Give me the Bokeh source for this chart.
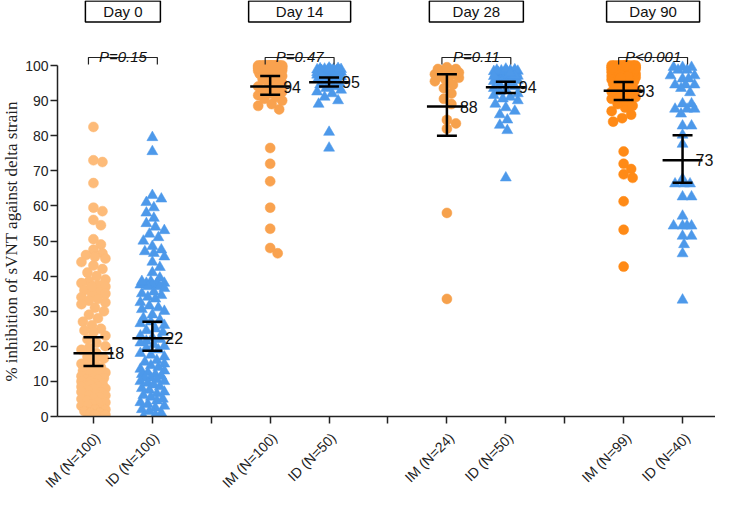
import numpy as np
from bokeh.plotting import figure
from bokeh.layouts import column, row
from bokeh.models import FixedTicker, Range1d
from bokeh.core.properties import value
from bokeh.embed import file_html
from bokeh.resources import INLINE

# ---------------- data ----------------
days = ["Day 0", "Day 14", "Day 28", "Day 90"]
group_labels = ["IM (N=100)", "ID (N=100)", "IM (N=100)", "ID (N=50)",
                "IM (N=24)", "ID (N=50)", "IM (N=99)", "ID (N=40)"]
group_pos = [1, 2, 4, 5, 7, 8, 10, 11]
p_values = ["P=0.15", "P=0.47", "P=0.11", "P<0.001"]
means = [18.0, 22.3, 94.0, 95.2, 88.3, 93.8, 92.8, 73.0]
ci_low = [14.4, 18.7, 91.7, 94.0, 80.0, 92.2, 90.2, 66.6]
ci_high = [22.6, 27.0, 97.0, 96.6, 97.5, 95.4, 95.3, 80.1]
mean_labels = ["18", "22", "94", "95", "88", "94", "93", "73"]
y_title = "% inhibition of sVNT  against delta strain"

im_day0 = [82.5, 73.0, 72.5, 66.5, 59.5, 58.5, 56.0, 54.5, 50.5, 49.0,
           47.5, 46.5, 46.0, 45.0, 44.0, 43.0, 42.0, 41.0, 40.0, 39.0,
           38.5, 38.0, 37.5, 37.0, 36.0, 35.5, 35.0, 34.0, 33.0, 32.5,
           32.0, 31.0, 30.0, 29.0, 28.0, 27.0, 26.0, 25.0, 24.0, 23.0,
           22.0, 21.0, 20.0, 19.5, 19.0, 18.0, 17.0, 16.5, 16.0, 15.0,
           14.5, 14.0, 13.5, 13.0, 12.5, 12.0, 12.0, 11.5, 11.0, 11.0,
           10.5, 10.5, 10.0, 10.0, 9.5, 9.5, 9.0, 9.0, 8.5, 8.5,
           8.0, 8.0, 7.5, 7.0, 7.0, 6.5, 6.0, 6.0, 5.5, 5.0,
           5.0, 4.5, 4.0, 4.0, 3.5, 3.0, 3.0, 2.5, 2.0, 2.0,
           1.5, 1.0, 1.0, 0.5, 0.5, 37.0, 35.0, 33.5, 45.5, 24.5]
id_day0 = [79.5, 75.5, 63.0, 62.0, 61.0, 59.5, 58.0, 56.5, 55.0, 54.0,
           53.0, 52.0, 51.0, 50.0, 48.5, 47.5, 47.0, 46.5, 45.5, 44.0,
           42.5, 41.0, 39.5, 38.5, 38.0, 38.0, 38.0, 37.5, 37.5, 37.0,
           37.0, 36.5, 35.5, 35.0, 34.0, 33.5, 32.5, 31.5, 31.0, 30.5,
           30.0, 29.0, 28.0, 27.5, 27.0, 26.5, 26.0, 25.0, 24.5, 24.0,
           23.0, 22.5, 22.0, 21.5, 21.0, 20.0, 19.5, 19.0, 18.0, 17.5,
           17.0, 16.0, 15.5, 15.0, 14.5, 14.0, 13.5, 13.0, 12.5, 12.0,
           12.0, 11.5, 11.0, 11.0, 10.5, 10.0, 10.0, 9.5, 9.0, 8.5,
           8.0, 7.5, 7.0, 6.5, 6.0, 5.5, 5.0, 4.5, 4.0, 3.5,
           3.0, 2.5, 2.0, 1.5, 1.0, 0.5, 0.0, 38.5, 34.5, 20.5]
im_day14 = [76.5, 72.0, 67.0, 59.5, 53.5, 48.0, 46.5,
            87.5, 88.5, 89.0, 90.0, 90.5, 91.0, 91.5, 92.0, 92.5, 93.0,
            93.5, 94.0, 94.5, 95.0, 95.5, 96.0, 96.5, 97.0, 97.0, 97.5,
            97.6, 97.8, 98.0, 98.0, 98.2, 98.3, 98.4, 98.5, 98.5, 98.6,
            98.7, 98.8, 98.8, 98.9, 99.0, 99.0, 99.0, 99.1, 99.1, 99.2,
            99.2, 99.2, 99.3, 99.3, 99.3, 99.4, 99.4, 99.4, 99.5, 99.5,
            99.5, 99.5, 99.6, 99.6, 99.6, 99.6, 99.7, 99.7, 99.7, 99.7,
            99.8, 99.8, 99.8, 99.8, 99.8, 99.9, 99.9, 99.9, 99.9, 99.9,
            100.0, 100.0, 100.0, 100.0, 100.0, 100.0, 100.0, 100.0, 100.0, 100.0,
            98.1, 98.9, 99.0, 99.2, 99.4, 99.6, 99.8, 100.0, 100.0, 100.0,
            99.5, 99.3, 99.9]
id_day14 = [81.0, 76.5,
            89.0, 90.0, 91.0, 92.0, 92.5, 93.0, 93.5, 94.0, 94.5, 95.0, 95.5, 96.0,
            96.5, 96.6, 96.8, 97.0, 97.0, 97.2, 97.3, 97.4, 97.5, 97.6,
            97.7, 97.8, 97.9, 98.0, 98.0, 98.1, 98.2, 98.2, 98.3, 98.4,
            98.4, 98.5, 98.5, 98.6, 98.6, 98.7, 98.8, 98.8, 98.9, 99.0,
            99.0, 99.1, 99.2, 99.3, 98.0, 97.5]
im_day28 = [33.5, 58.0, 82.0, 83.5, 84.5,
            89.0, 90.5, 92.0, 93.5, 94.5, 95.5,
            96.0, 96.5, 97.0, 97.0, 97.5, 97.5, 98.0, 98.0, 98.5, 98.5, 99.0, 99.0, 99.5]
id_day28 = [68.0,
            81.5, 83.0, 84.5, 86.0, 87.0, 88.0, 89.0, 90.0, 90.5, 91.0,
            91.5, 92.0, 92.5, 93.0, 93.5, 94.0, 94.5, 95.0,
            95.5, 95.8, 96.0, 96.2, 96.4, 96.5, 96.6, 96.8, 97.0, 97.0,
            97.2, 97.3, 97.4, 97.5, 97.6, 97.7, 97.8, 98.0, 98.0, 98.1,
            98.2, 98.3, 98.4, 98.5, 98.6, 98.7, 98.8, 99.0, 97.1, 96.9, 97.9]
im_day90 = [75.5, 72.0, 70.5, 69.0, 68.0, 61.3, 53.2, 42.7,
            84.0, 85.0, 86.0, 87.0, 88.0, 88.5, 89.0, 90.0, 90.5, 91.0,
            91.5, 92.0, 92.5, 93.0, 93.5, 94.0,
            94.5, 94.8, 95.0, 95.2, 95.5, 95.7, 96.0, 96.2, 96.4, 96.6,
            96.8, 97.0, 97.0, 97.2, 97.3, 97.5, 97.6, 97.8, 97.9, 98.0,
            98.0, 98.1, 98.2, 98.3, 98.4, 98.5, 98.5, 98.6, 98.7, 98.8,
            98.9, 99.0, 99.0, 99.1, 99.1, 99.2, 99.2, 99.3, 99.3, 99.4,
            99.4, 99.5, 99.5, 99.5, 99.6, 99.6, 99.6, 99.7, 99.7, 99.7,
            99.8, 99.8, 99.8, 99.8, 99.9, 99.9, 99.9, 99.9, 100.0, 100.0,
            100.0, 100.0, 100.0, 100.0, 100.0, 100.0, 99.0, 98.0, 97.0, 96.5,
            99.5, 99.8, 100.0, 100.0, 99.3]
id_day90 = [99.5, 99.5, 99.5, 98.7, 98.7, 97.1, 97.1, 96.2, 96.2,
            94.5, 94.5, 94.5, 93.5, 92.3, 89.1, 89.1, 87.6, 87.6, 87.6, 86.2,
            82.8, 82.8, 80.2, 77.6, 67.7, 66.3, 66.3, 66.3, 62.6, 62.6,
            57.1, 54.3, 54.3, 54.3, 54.3, 51.4, 51.4, 49.0, 46.4, 33.2]

groups = [im_day0, id_day0, im_day14, id_day14, im_day28, id_day28, im_day90, id_day90]
colors = ["#FDBB79", "#4D99EA", "#F9A24F", "#4D99EA", "#F6A14C", "#4D99EA", "#FF8A16", "#4D99EA"]

# ---------------- layout constants ----------------
W_TITLE = 22
W = 715 - W_TITLE
PPU = 3.51                 # px per y unit
TICK_PX = 59.0             # px per x unit
BL = 34                    # left border of main panel (y tick labels)
H_FRAME, BB_MAIN, H_BOT = 416, 12, 63
frame_w = W - BL
x0 = 1 - 36.0 / TICK_PX
x1 = x0 + frame_w / TICK_PX
y1 = 100 + 65.0 / PPU
PX_X, PX_Y = TICK_PX, PPU


def swarm(vals, diam=8.5, max_half=13.0, step=1.5):
    vals = np.asarray(vals, dtype=float)
    order = np.argsort(-vals, kind="stable")
    cands = [0.0]
    k = 1
    while k * step <= max_half:
        cands += [k * step, -k * step]
        k += 1
    placed = []
    offs = np.zeros(len(vals))
    for i in order:
        yv = vals[i] * PX_Y
        best, best_d = 0.0, -1.0
        for c in cands:
            if placed:
                arr = np.array(placed)
                dmin = np.min(np.hypot(arr[:, 0] - c, arr[:, 1] - yv))
            else:
                dmin = 1e9
            if dmin >= diam:
                best = c
                break
            if dmin > best_d:
                best_d, best = dmin, c
        offs[i] = best
        placed.append((best, yv))
    return offs / PX_X


def clean(fig):
    fig.outline_line_color = None
    fig.xgrid.visible = False
    fig.ygrid.visible = False
    fig.background_fill_color = "white"
    fig.border_fill_color = "white"
    if "frame_align" in fig.properties():
        fig.frame_align = False


font = value("Liberation Sans")
yr = Range1d(0, y1)

# ---- main panel ----
p = figure(width=W, height=H_FRAME + BB_MAIN, output_backend="svg", toolbar_location=None,
           x_range=Range1d(x0, x1), y_range=yr,
           min_border_left=BL, min_border_right=0, min_border_top=0, min_border_bottom=BB_MAIN)
clean(p)

for i, (vals, pos, col) in enumerate(zip(groups, group_pos, colors)):
    xs = pos + swarm(vals)
    if i % 2 == 0:
        p.scatter(xs, vals, marker="circle", size=10, fill_color=col, line_color=col, line_width=0.5)
    else:
        p.scatter(xs, vals, marker="triangle", size=11, fill_color=col, line_color=col, line_width=0.5)

gx = np.array(group_pos, dtype=float)
mw = 20.0 / PX_X
cw = 10.0 / PX_X
p.segment(gx - mw, means, gx + mw, means, line_color="black", line_width=2.5)
p.segment(gx, ci_low, gx, ci_high, line_color="black", line_width=2.5)
p.segment(gx - cw, ci_low, gx + cw, ci_low, line_color="black", line_width=2.5)
p.segment(gx - cw, ci_high, gx + cw, ci_high, line_color="black", line_width=2.5)
p.text(gx + 13.0 / PX_X, means, text=mean_labels, text_font=font, text_font_size="16px",
       text_align="left", text_baseline="alphabetic", text_color="#111111")

# p-value brackets
left = gx[0::2]
right = gx[1::2]
centers = (left + right) / 2
yb = 100 + (73 - 65) / PPU
yt = 100 + (73 - 72) / PPU
pad = 5.0 / PX_X
xs_b = [[l - pad, l - pad, r + pad, r + pad] for l, r in zip(left, right)]
ys_b = [[yt, yb, yb, yt] for _ in left]
p.multi_line(xs_b, ys_b, line_color="#222222", line_width=1.2)
p.text(centers, [yb + 0.4] * 4, text=p_values, text_font=font, text_font_size="15px",
       text_font_style="italic", text_align="center", text_baseline="alphabetic", text_color="#111111")

# day header boxes
box_w = [75, 102, 94, 93]
yday = 100 + (73 - 19) / PPU
p.rect(centers, [yday] * 4, width=box_w, height=[21] * 4, width_units="screen", height_units="screen",
       fill_color="white", line_color="black", line_width=1.5)
p.text(centers, [yday] * 4, text=days, text_font=font, text_font_size="15px",
       text_align="center", text_baseline="middle", text_color="#111111")

xa = p.xaxis[0]
xa.ticker = FixedTicker(ticks=list(range(1, 12)))
xa.major_label_overrides = {t: "" for t in range(1, 12)}
xa.major_label_text_font_size = "1px"
xa.major_label_standoff = 0
xa.minor_tick_line_color = None
xa.major_tick_in = 0
xa.major_tick_out = 7
xa.axis_line_width = 1.5
xa.major_tick_line_width = 1.5
xa.axis_line_color = "#222222"
xa.major_tick_line_color = "#222222"

ya = p.yaxis[0]
ya.ticker = FixedTicker(ticks=list(range(0, 101, 10)))
ya.bounds = (0, 100)
ya.minor_tick_line_color = None
ya.major_tick_in = 0
ya.major_tick_out = 7
ya.axis_line_width = 1.5
ya.major_tick_line_width = 1.5
ya.axis_line_color = "#222222"
ya.major_tick_line_color = "#222222"
ya.major_label_text_font = "Liberation Sans"
ya.major_label_text_font_size = "14px"
ya.major_label_text_color = "#222222"
ya.major_label_standoff = 2

# ---- left strip: y axis title centred on the 0-100 span ----
ptl = figure(width=W_TITLE, height=H_FRAME + BB_MAIN, output_backend="svg", toolbar_location=None,
             x_range=Range1d(0, W_TITLE), y_range=yr,
             x_axis_location=None, y_axis_location=None,
             min_border_left=0, min_border_right=0, min_border_top=0, min_border_bottom=BB_MAIN)
clean(ptl)
ptl.text([10.5], [50.5], text=[y_title], angle=np.pi / 2, text_align="center", text_baseline="middle",
         text_font=value("Liberation Serif"), text_font_size="17px", text_color="#222222")

# ---- bottom strip: rotated group labels under the ticks ----
pb = figure(width=W, height=H_BOT, output_backend="svg", toolbar_location=None,
            x_range=Range1d(x0 - BL / PX_X, x1), y_range=Range1d(-(BB_MAIN + H_BOT), -BB_MAIN),
            x_axis_location=None, y_axis_location=None,
            min_border_left=0, min_border_right=0, min_border_top=0, min_border_bottom=0)
clean(pb)
pb.text(group_pos, [-19.0] * len(group_pos), text=group_labels, angle=np.pi / 4, x_offset=5,
        text_align="right", text_baseline="middle", text_font=font, text_font_size="14px",
        text_color="#222222")

pad_bottom = figure(width=W_TITLE, height=H_BOT, output_backend="svg", toolbar_location=None,
                    x_axis_location=None, y_axis_location=None,
                    min_border_left=0, min_border_right=0, min_border_top=0, min_border_bottom=0)
clean(pad_bottom)

layout = row(column(ptl, pad_bottom, spacing=0), column(p, pb, spacing=0), spacing=0)
open("out.html", "w").write(file_html(layout, INLINE))
